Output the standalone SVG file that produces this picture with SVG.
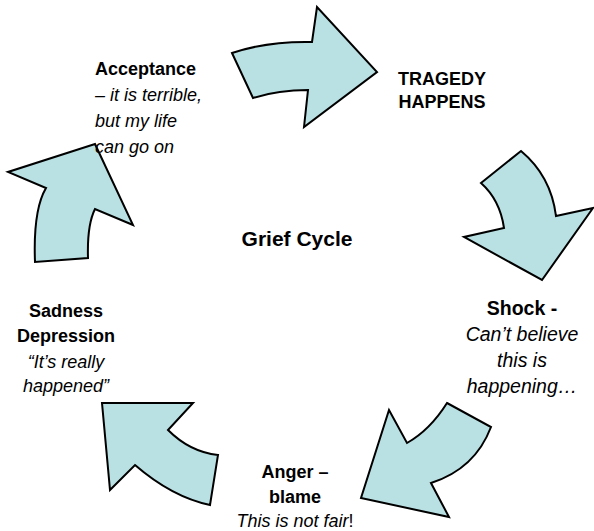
<svg xmlns="http://www.w3.org/2000/svg" width="594" height="531" viewBox="0 0 594 531">
<style>
.arr{fill:#b9e0e3;stroke:#000;stroke-width:2;stroke-linejoin:miter}
text{font-family:"Liberation Sans",Arial,sans-serif;font-size:18px;fill:#000}
.b{font-weight:bold}
.i{font-style:italic}
</style>
<rect width="594" height="531" fill="#fff"/>
<g id="connectors">
<path class="arr" d="M232,53 Q268,41 312,42 L317,7 L377,72 L304,127 L308,90 Q278,90 253,98 Z"/>
<path class="arr" d="M481,183 L521,151 Q551,176 556,216 L593,208 L542,280 L464,237 L504,228 Q500,200 481,183 Z"/>
<path class="arr" d="M447,403 L491,427 Q475,469 431,483 L449,517 L361,498 L389,410 L407,443 Q430,430 447,403 Z"/>
<path class="arr" d="M102,403 L193,403 L168,430 Q190,452 218,455 L210,505 Q172,497 135,465 L110,490 Z"/>
<path class="arr" d="M95,144 L133,225 L95,209 Q87,225 88,258 L35,262 Q33,210 46,188 L8,172 Z"/>
</g>
<g id="acceptance">
<text x="95" y="75" class="b">Acceptance</text>
<text x="95" y="101" class="i">– it is terrible,</text>
<text x="95" y="127" class="i">but my life</text>
<text x="95" y="153" class="i">can go on</text>
</g>
<g id="tragedy" text-anchor="middle">
<text x="442" y="85" class="b">TRAGEDY</text>
<text x="442" y="108" class="b">HAPPENS</text>
</g>
<g id="grief-cycle">
<text x="297" y="246" class="b" text-anchor="middle" style="font-size:21px">Grief Cycle</text>
</g>
<g id="shock" text-anchor="middle">
<text x="522" y="315" class="b" style="font-size:19.5px">Shock -</text>
<text x="522" y="341" class="i" style="font-size:19.5px">Can’t believe</text>
<text x="522" y="367" class="i" style="font-size:19.5px">this is</text>
<text x="522" y="393" class="i" style="font-size:19.5px">happening…</text>
</g>
<g id="anger" text-anchor="middle">
<text x="295" y="478" class="b">Anger –</text>
<text x="295" y="503" class="b">blame</text>
<text x="295" y="527"><tspan class="i">This is not fair</tspan>!</text>
</g>
<g id="sadness" text-anchor="middle">
<text x="66" y="317" class="b">Sadness</text>
<text x="66" y="342" class="b">Depression</text>
<text x="66" y="368" class="i">“It’s really</text>
<text x="66" y="392" class="i">happened”</text>
</g>
</svg>
